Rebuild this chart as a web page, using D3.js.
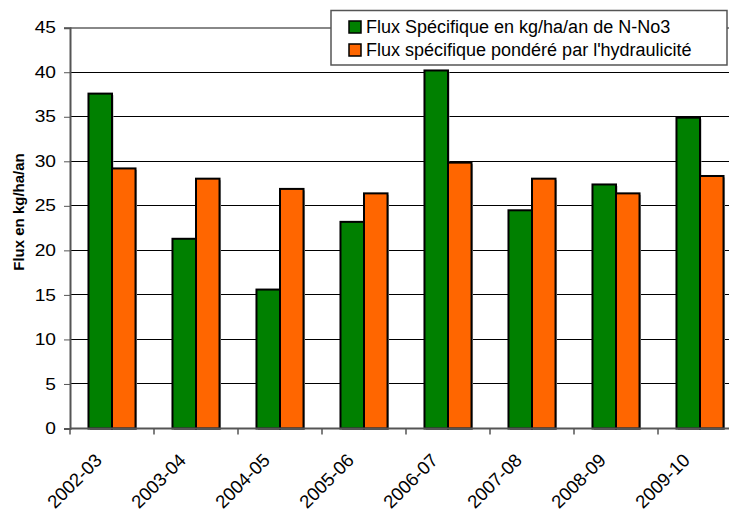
<!DOCTYPE html>
<html><head><meta charset="utf-8">
<script src="https://cdn.jsdelivr.net/npm/d3@7"></script>
<style>body{margin:0;background:#fff}svg{display:block;font-family:"Liberation Sans",Arial,sans-serif}</style>
</head><body>
<svg id="c" width="729" height="512"></svg>
<script>
const categories = ["2002-03","2003-04","2004-05","2005-06","2006-07","2007-08","2008-09","2009-10"];
const fluxSpecifique = [37.6,21.3,15.6,23.2,40.2,24.5,27.4,34.9];
const fluxPondere = [29.2,28.05,26.9,26.4,29.85,28.05,26.4,28.35];
const seriesNames = ["Flux Spécifique en kg/ha/an de N-No3","Flux spécifique pondéré par l'hydraulicité"];
const seriesColors = ["#008000","#FF6600"];
const yTicks = [0,5,10,15,20,25,30,35,40,45];
const yTitle = "Flux en kg/ha/an";

(function(){
const svg = d3.select("#c");
const pLeft = 70, pRight = 742, pTop = 27.7, pBottom = 428.5;
const x = d3.scaleBand().domain(categories).range([pLeft, pRight]).padding(0);
const y = d3.scaleLinear().domain([0,45]).range([pBottom, pTop]);
const bw = x.bandwidth()*0.28;

// gridlines
svg.append("g").selectAll("line").data(yTicks.filter(d=>d>0)).join("line")
  .attr("x1",pLeft).attr("x2",pRight).attr("y1",d=>y(d)).attr("y2",d=>y(d))
  .attr("stroke",d=>d===45?"#888":"#000").attr("stroke-width",d=>d===45?2:1).attr("shape-rendering","crispEdges");

// bars
const series = [fluxSpecifique, fluxPondere];
series.forEach((vals,si)=>{
  const g = svg.append("g");
  g.selectAll("rect.s").data(vals).join("rect").attr("class","s")
    .attr("x",(d,i)=>x(categories[i])+x.bandwidth()/2 - bw + si*bw + 1.5)
    .attr("y",d=>y(d)+1.5).attr("width",bw).attr("height",d=>pBottom-y(d))
    .attr("fill","#aaa");
  g.selectAll("rect.b").data(vals).join("rect").attr("class","b")
    .attr("x",(d,i)=>x(categories[i])+x.bandwidth()/2 - bw + si*bw)
    .attr("y",d=>y(d)).attr("width",bw).attr("height",d=>pBottom-y(d))
    .attr("fill",seriesColors[si]).attr("stroke","#000").attr("stroke-width",2);
});

// y axis
const yAxis = svg.append("g").attr("transform",`translate(${pLeft},0)`)
  .call(d3.axisLeft(y).tickValues(yTicks).tickSize(6).tickPadding(6));
yAxis.select(".domain").attr("stroke","#555").attr("stroke-width",2);
yAxis.selectAll(".tick line").attr("stroke","#555");
yAxis.selectAll("text").attr("font-size","16px").attr("fill","#000").attr("font-family","Liberation Sans, Arial")
  .attr("x",-14/1.2).attr("transform","scale(1.2,1)");

// x axis
const xg = svg.append("g").attr("transform",`translate(0,${pBottom})`);
xg.append("line").attr("x1",pLeft).attr("x2",pRight).attr("stroke","#555").attr("stroke-width",2);
const bounds = categories.map(c=>x(c));
xg.selectAll("line.t").data(bounds).join("line").attr("class","t")
  .attr("x1",d=>d).attr("x2",d=>d).attr("y1",0).attr("y2",6).attr("stroke","#555").attr("stroke-width",1.5);
xg.selectAll("text").data(categories).join("text")
  .attr("transform",d=>`translate(${x(d)+x.bandwidth()/2-9},${33}) rotate(-45)`)
  .attr("text-anchor","end").attr("font-size","18.5px").text(d=>d);

// y title
svg.append("text").attr("transform","translate(24,212) rotate(-90)")
  .attr("text-anchor","middle").attr("font-weight","bold").attr("font-size","15px").text(yTitle);

// legend
const lg = svg.append("g");
lg.append("rect").attr("x",331).attr("y",10.5).attr("width",396).attr("height",54.5)
  .attr("fill","#fff").attr("stroke","#555").attr("stroke-width",1.5);
seriesNames.forEach((n,i)=>{
  const yy = 27 + i*23;
  lg.append("rect").attr("x",349).attr("y",yy-6).attr("width",12).attr("height",12)
    .attr("fill",seriesColors[i]).attr("stroke","#000").attr("stroke-width",1.5);
  lg.append("text").attr("x",366).attr("y",yy).attr("dy","0.35em").attr("font-size","18px").text(n);
});
})();
</script>
</body></html>
